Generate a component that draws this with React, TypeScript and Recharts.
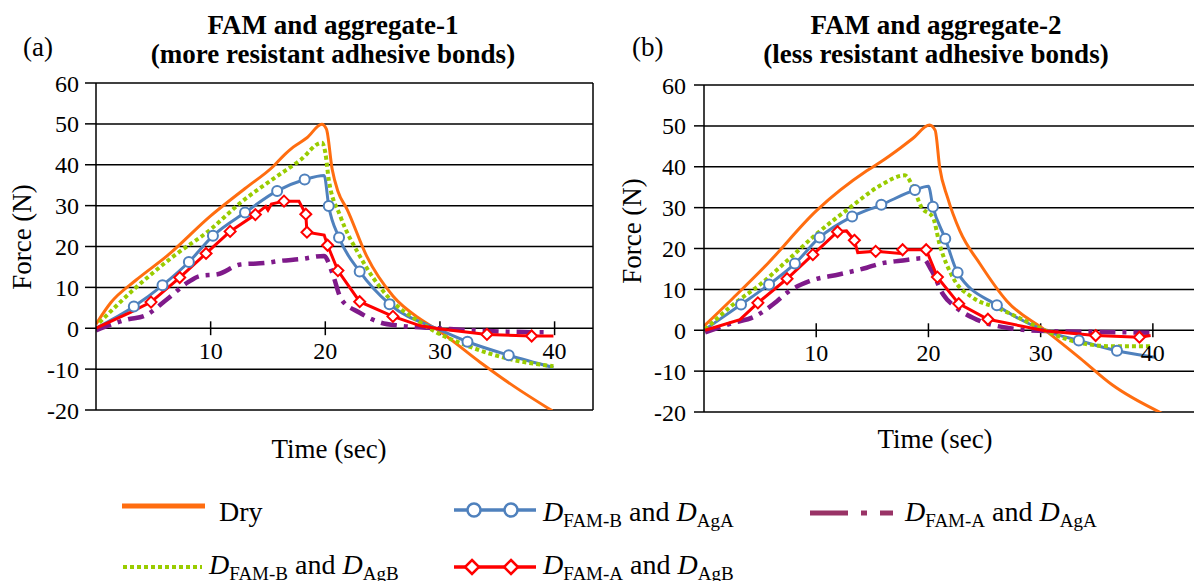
import React from "react";
import {
  ComposedChart,
  Line,
  Scatter,
  XAxis,
  YAxis,
  CartesianGrid,
  ReferenceLine,
} from "recharts";

type Pair = [number, number];

const FONT = "'Liberation Serif', 'Times New Roman', Times, serif";
const ORANGE = "#ff6d10";
const BLUE = "#4f81bd";
const GREEN = "#99cc00";
const RED = "#ff0000";
const PURPLE = "#7f1a8a";
const PURPLE_LEGEND = "#993366";

const xTicks = [10, 20, 30, 40];
const yTicks = [-20, -10, 0, 10, 20, 30, 40, 50, 60];

// (a) FAM and aggregate-1  — [time (sec), force (N)]
const dryA: Pair[] = [
  [0, 1], [1.3, 6.3], [3.5, 11.8], [6.2, 17.7], [10, 27.5], [13, 34.2], [15.5, 39.7],
  [16.5, 42.6], [17.2, 44.3], [18.4, 46.6], [19.7, 49.9], [20.1, 48.7], [20.6, 38.9],
  [21.1, 33.5], [21.9, 29.1], [23.6, 17.7], [25.9, 7.9], [28.3, 2.2], [29.9, -0.6],
  [33.5, -8.3], [36.4, -14.1], [39.8, -20.2],
];
const blueA: Pair[] = [
  [0, 0], [3.3, 5.3], [5.8, 10.5], [8.1, 16.2], [10.2, 22.6], [13, 28.3], [15.8, 33.6],
  [18.2, 36.4], [19.9, 37.4], [20.3, 29.9], [21.2, 22.2], [23, 13.9], [25.6, 5.9],
  [29.9, -0.3], [32.4, -3.3], [36, -6.6], [39.9, -9.6],
];
const blueMarksA: Pair[] = [
  [3.3, 5.3], [5.8, 10.5], [8.1, 16.2], [10.2, 22.6], [13, 28.3], [15.8, 33.6], [18.2, 36.4],
  [20.3, 29.9], [21.2, 22.2], [23, 13.9], [25.6, 5.9], [32.4, -3.3], [36, -6.6],
];
const purpleA: Pair[] = [
  [0, -0.5], [2.8, 2.2], [4.2, 3], [6.2, 7.1], [8, 11.2], [9.1, 12.8], [10.6, 13.2],
  [12.6, 15.6], [14.9, 16], [16.1, 16.5], [17.8, 16.9], [19.9, 17.7], [20.6, 13.6],
  [21.4, 7.1], [23, 3.8], [24.8, 1.4], [26.5, 0.6], [29.9, 0], [33.5, -0.6], [39.3, -1],
];
const greenA: Pair[] = [
  [0.3, 1.4], [3.3, 9.5], [6.8, 17.7], [10, 24.2], [12.6, 30.7], [15.8, 37.2], [17.8, 41.1],
  [19.7, 45.4], [20, 43], [20.3, 36.4], [21.3, 27.5], [23, 17.7], [25.4, 7.9], [28.3, 1.4],
  [29.7, -1], [32.4, -4.3], [36, -7.5], [39.9, -9.3],
];
const redA: Pair[] = [
  [0, 0], [3, 3.9], [4.8, 6.4], [7.3, 12.4], [9.6, 18.3], [11.7, 23.7], [13.9, 27.8],
  [14.8, 29.8], [15, 28.9], [15.3, 30.4], [16.4, 31.1], [17.7, 31.1], [18.3, 27.9],
  [18.4, 23.5], [19.9, 22.8], [20.2, 20.3], [21.1, 14.1], [23, 6.5], [25.9, 2.9],
  [28.3, 0.6], [29.9, -0.1], [34.1, -1.5], [38, -1.9], [39.9, -1.9],
];
const redMarksA: Pair[] = [
  [4.8, 6.4], [7.3, 12.4], [9.6, 18.3], [11.7, 23.7], [13.9, 27.8], [16.4, 31.1], [18.3, 27.9],
  [18.4, 23.5], [20.2, 20.3], [21.1, 14.1], [23, 6.5], [25.9, 2.9], [34.1, -1.5], [38, -1.9],
];

// (b) FAM and aggregate-2
const dryB: Pair[] = [
  [0, 1], [2.6, 7.9], [5.6, 16.1], [10, 29.2], [14.5, 39], [15.7, 41.1], [17.5, 44.6],
  [18.6, 46.9], [20.1, 50.2], [20.6, 48.9], [21, 39.9], [21.7, 32.5], [22.8, 24.3],
  [24.6, 16.2], [27, 7.1], [30.5, -0.2], [33.5, -6.8], [36.4, -13.4], [40.8, -20.3],
];
const blueB: Pair[] = [
  [0, 0], [3.3, 6.3], [5.8, 11.2], [8.1, 16.3], [10.3, 22.7], [13.2, 27.8], [15.8, 30.7],
  [18.8, 34.3], [20, 35.2], [20.4, 30.2], [21.5, 22.4], [22.6, 14.1], [26.1, 6.1],
  [30.5, -0.2], [33.4, -2.5], [36.8, -5], [40.2, -6.6],
];
const blueMarksB: Pair[] = [
  [3.3, 6.3], [5.8, 11.2], [8.1, 16.3], [10.3, 22.7], [13.2, 27.8], [15.8, 30.7], [18.8, 34.3],
  [20.4, 30.2], [21.5, 22.4], [22.6, 14.1], [26.1, 6.1], [33.4, -2.5], [36.8, -5],
];
const purpleB: Pair[] = [
  [0.1, -0.5], [2.6, 1.8], [4.4, 3.2], [6.5, 7.1], [7.4, 9.2], [9.4, 12], [12.1, 13.7],
  [14.5, 15.3], [15.7, 16.3], [17.5, 17], [19.5, 17.6], [20.3, 14.5], [21.3, 8.8],
  [22.5, 5.5], [24.3, 2.6], [27, 0.6], [30.5, -0.2], [35, -0.4], [39.7, -0.6],
];
const greenB: Pair[] = [
  [0.1, 0.2], [2.6, 6.3], [5, 11.2], [7.4, 17], [10, 23.5], [13, 30], [15.7, 35.4],
  [17.9, 37.9], [18.5, 35.8], [19.4, 30], [20.4, 27.6], [21, 21], [22.2, 12.8], [24, 7.9],
  [26.1, 5.5], [28.1, 3], [30.5, -0.2], [33.5, -3.1], [36.4, -3.9], [39.8, -3.9],
];
const redB: Pair[] = [
  [0.1, 0], [3.2, 2.6], [4.8, 6.7], [7.4, 12.6], [9.7, 18.5], [11.9, 24.1], [12.7, 24.3],
  [13.4, 22], [13.7, 19], [15.3, 19.3], [17.5, 18.8], [17.7, 19.7], [19.8, 19.7],
  [20.8, 13], [22.7, 6.5], [25.3, 2.7], [30.5, -0.2], [34.9, -1.3], [38.8, -1.7], [39.8, -1.3],
];
const redMarksB: Pair[] = [
  [4.8, 6.7], [7.4, 12.6], [9.7, 18.5], [11.9, 24.1], [13.4, 22], [15.3, 19.3], [17.7, 19.7],
  [19.8, 19.7], [20.8, 13], [22.7, 6.5], [25.3, 2.7], [34.9, -1.3], [38.8, -1.7],
];

const toPts = (a: Pair[]) => a.map(([t, f]) => ({ t, f }));

const CircleMark = (p: any) => (
  <circle cx={p.cx} cy={p.cy} r={5} fill="#fff" stroke={BLUE} strokeWidth={2} />
);
const DiamondMark = (p: any) => {
  const s = 5.5;
  return (
    <path
      d={`M${p.cx},${p.cy - s}L${p.cx + s},${p.cy}L${p.cx},${p.cy + s}L${p.cx - s},${p.cy}Z`}
      fill="#fff"
      stroke={RED}
      strokeWidth={2}
    />
  );
};

interface PanelProps {
  left: number;
  width: number;
  height: number;
  top: number;
  bottom: number;
  right: number;
  axisWidth: number;
  tickSize: number;
  tickMargin: number;
  xMax: number;
  border: boolean;
  dry: Pair[];
  blue: Pair[];
  blueMarks: Pair[];
  purple: Pair[];
  green: Pair[];
  red: Pair[];
  redMarks: Pair[];
}

function Panel(p: PanelProps) {
  return (
    <div style={{ position: "absolute", left: p.left, top: 0 }}>
      <ComposedChart
        width={p.width}
        height={p.height}
        margin={{ top: p.top, right: p.right, bottom: p.bottom, left: 0 }}
      >
        <CartesianGrid vertical={false} stroke="#000" strokeWidth={1.5} />
        <XAxis type="number" dataKey="t" domain={[0, p.xMax]} hide allowDataOverflow />
        <YAxis
          type="number"
          domain={[-20, 60]}
          ticks={yTicks}
          interval={0}
          width={p.axisWidth}
          tickSize={p.tickSize}
          tickMargin={p.tickMargin}
          axisLine={{ stroke: "#000", strokeWidth: 1.5 }}
          tickLine={{ stroke: "#000", strokeWidth: 1.5 }}
          tick={{ fill: "#000", fontSize: 24, fontFamily: FONT }}
          allowDataOverflow
        />
        {p.border && <ReferenceLine x={p.xMax} stroke="#000" strokeWidth={1.5} />}
        {xTicks.map((v) => (
          <ReferenceLine
            key={v}
            segment={[
              { x: v, y: -1.7 },
              { x: v, y: 1.7 },
            ]}
            stroke="#000"
            strokeWidth={1.5}
            label={{
              value: String(v),
              position: "bottom",
              offset: 7,
              fill: "#000",
              fontSize: 24,
              fontFamily: FONT,
            }}
          />
        ))}
        <Line data={toPts(p.dry)} dataKey="f" type="monotone" stroke={ORANGE} strokeWidth={3} dot={false} isAnimationActive={false} />
        <Line data={toPts(p.blue)} dataKey="f" type="monotone" stroke={BLUE} strokeWidth={3} dot={false} isAnimationActive={false} />
        <Scatter data={toPts(p.blueMarks)} dataKey="f" shape={CircleMark} isAnimationActive={false} />
        <Line data={toPts(p.purple)} dataKey="f" type="monotone" stroke={PURPLE} strokeWidth={4.5} strokeDasharray="16 7 4 7" dot={false} isAnimationActive={false} />
        <Line data={toPts(p.green)} dataKey="f" type="monotone" stroke={GREEN} strokeWidth={4} strokeDasharray="4 3" dot={false} isAnimationActive={false} />
        <Line data={toPts(p.red)} dataKey="f" type="linear" stroke={RED} strokeWidth={3} dot={false} isAnimationActive={false} />
        <Scatter data={toPts(p.redMarks)} dataKey="f" shape={DiamondMark} isAnimationActive={false} />
      </ComposedChart>
    </div>
  );
}

function Sub({ main, sub }: { main: string; sub: string }) {
  return (
    <>
      <tspan fontStyle="italic">{main}</tspan>
      <tspan fontSize={19} dy={6}>{sub}</tspan>
      <tspan dy={-6}>{""}</tspan>
    </>
  );
}

function LegendText({ x, y, a, b }: { x: number; y: number; a: string; b: string }) {
  return (
    <text x={x} y={y} fontSize={28} fill="#000">
      <tspan fontStyle="italic">D</tspan>
      <tspan fontSize={19} dy={6}>{a}</tspan>
      <tspan dy={-6}> and </tspan>
      <tspan fontStyle="italic">D</tspan>
      <tspan fontSize={19} dy={6}>{b}</tspan>
    </text>
  );
}

function Overlay() {
  return (
    <svg
      width={1194}
      height={581}
      style={{ position: "absolute", left: 0, top: 0, pointerEvents: "none" }}
      fontFamily={FONT}
    >
      <text x={23} y={56} fontSize={27}>(a)</text>
      <text x={333} y={34} fontSize={27} fontWeight="bold" textAnchor="middle">FAM and aggregate-1</text>
      <text x={333} y={63} fontSize={27} fontWeight="bold" textAnchor="middle">(more resistant adhesive bonds)</text>
      <text x={632} y={56} fontSize={27}>(b)</text>
      <text x={936} y={34} fontSize={27} fontWeight="bold" textAnchor="middle">FAM and aggregate-2</text>
      <text x={936} y={63} fontSize={27} fontWeight="bold" textAnchor="middle">(less resistant adhesive bonds)</text>

      <text x={329} y={458} fontSize={27} textAnchor="middle">Time (sec)</text>
      <text x={935} y={448} fontSize={27} textAnchor="middle">Time (sec)</text>
      <text x={31} y={237} fontSize={27} textAnchor="middle" transform="rotate(-90 31 237)">Force (N)</text>
      <text x={641} y={231} fontSize={27} textAnchor="middle" transform="rotate(-90 641 231)">Force (N)</text>

      {/* legend row 1 */}
      <line x1={122} x2={205} y1={506} y2={506} stroke={ORANGE} strokeWidth={5} />
      <text x={219} y={521} fontSize={28}>Dry</text>
      <line x1={454} x2={536} y1={510} y2={510} stroke={BLUE} strokeWidth={3.5} />
      <circle cx={474} cy={510} r={6.5} fill="#fff" stroke={BLUE} strokeWidth={2.5} />
      <circle cx={511} cy={510} r={6.5} fill="#fff" stroke={BLUE} strokeWidth={2.5} />
      <LegendText x={543} y={521} a="FAM-B" b="AgA" />
      <line x1={810} x2={848} y1={513} y2={513} stroke={PURPLE_LEGEND} strokeWidth={5} />
      <line x1={861} x2={867} y1={513} y2={513} stroke={PURPLE_LEGEND} strokeWidth={5} />
      <line x1={880} x2={893} y1={513} y2={513} stroke={PURPLE_LEGEND} strokeWidth={5} />
      <LegendText x={905} y={521} a="FAM-A" b="AgA" />

      {/* legend row 2 */}
      <line x1={123} x2={202} y1={567} y2={567} stroke={GREEN} strokeWidth={4} strokeDasharray="4 3" />
      <LegendText x={209} y={574} a="FAM-B" b="AgB" />
      <line x1={454} x2={536} y1={567} y2={567} stroke={RED} strokeWidth={3.5} />
      <path d="M472,560L479,567L472,574L465,567Z" fill="#fff" stroke={RED} strokeWidth={2.5} />
      <path d="M511,560L518,567L511,574L504,567Z" fill="#fff" stroke={RED} strokeWidth={2.5} />
      <LegendText x={543} y={574} a="FAM-A" b="AgB" />
    </svg>
  );
}

export default function App() {
  return (
    <div
      style={{
        position: "absolute",
        left: 0,
        top: 0,
        width: 1194,
        height: 581,
        overflow: "hidden",
        background: "#fff",
        fontFamily: FONT,
      }}
    >
      <Panel
        left={0}
        width={600}
        height={440}
        top={83}
        bottom={30}
        right={7}
        axisWidth={96}
        tickSize={11}
        tickMargin={6}
        xMax={43.35}
        border
        dry={dryA}
        blue={blueA}
        blueMarks={blueMarksA}
        purple={purpleA}
        green={greenA}
        red={redA}
        redMarks={redMarksA}
      />
      <Panel
        left={600}
        width={600}
        height={442}
        top={85}
        bottom={30}
        right={0}
        axisWidth={104}
        tickSize={10}
        tickMargin={8}
        xMax={44.2}
        border={false}
        dry={dryB}
        blue={blueB}
        blueMarks={blueMarksB}
        purple={purpleB}
        green={greenB}
        red={redB}
        redMarks={redMarksB}
      />
      <Overlay />
    </div>
  );
}
